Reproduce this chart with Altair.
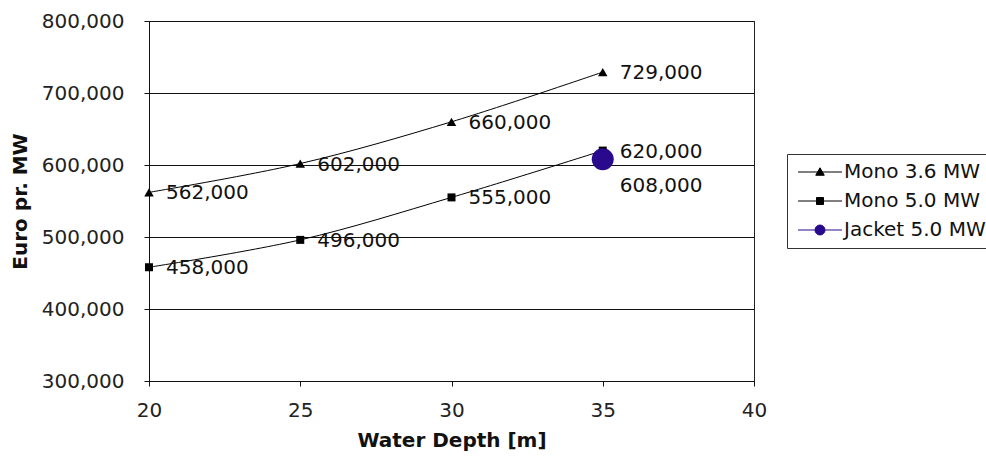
import altair as alt
import pandas as pd

depth = [20, 25, 30, 35]
mono36 = [562000, 602000, 660000, 729000]
mono50 = [458000, 496000, 555000, 620000]
jacket_depth = [35]
jacket50 = [608000]

series_names = ["Mono 3.6 MW", "Mono 5.0 MW", "Jacket 5.0 MW"]
series_colors = ["#000000", "#000000", "#2a0a8c"]
x_ticks = [20, 25, 30, 35, 40]
y_ticks = [300000, 400000, 500000, 600000, 700000, 800000]

rows = []
for d, v in zip(depth, mono36):
    rows.append({"depth": d, "value": v, "series": series_names[0]})
for d, v in zip(depth, mono50):
    rows.append({"depth": d, "value": v, "series": series_names[1]})
for d, v in zip(jacket_depth, jacket50):
    rows.append({"depth": d, "value": v, "series": series_names[2]})
df = pd.DataFrame(rows)

FONT = "DejaVu Sans"
FS = 20

x_enc = alt.X("depth:Q", scale=alt.Scale(domain=[20, 40], nice=False),
              axis=alt.Axis(values=x_ticks, title="Water Depth [m]", grid=False,
                            tickSize=5, labelPadding=14, titlePadding=10, labelFlush=False))
y_enc = alt.Y("value:Q", scale=alt.Scale(domain=[300000, 800000], nice=False),
              axis=alt.Axis(values=y_ticks, format=",.0f", title="Euro pr. MW", grid=True,
                            tickSize=5, labelPadding=20, titleX=-129, titleY=180,
                            titleAlign="center", titleBaseline="middle", titleAngle=-90))

base = alt.Chart(df)

lines = base.mark_line(color="black", strokeWidth=1, interpolate="catmull-rom").encode(
    x=x_enc, y=y_enc, detail="series:N"
).transform_filter(alt.FieldOneOfPredicate(field="series", oneOf=series_names[:2]))

tri = base.mark_point(shape="triangle-up", filled=True, color="black", size=90, opacity=1).encode(
    x=x_enc, y=y_enc
).transform_filter(alt.FieldEqualPredicate(field="series", equal=series_names[0]))

sq = base.mark_square(color="black", size=64, opacity=1).encode(
    x=x_enc, y=y_enc
).transform_filter(alt.FieldEqualPredicate(field="series", equal=series_names[1]))

circ = base.mark_circle(color=series_colors[2], size=484, opacity=1).encode(
    x=x_enc, y=y_enc
).transform_filter(alt.FieldEqualPredicate(field="series", equal=series_names[2]))

labels = base.mark_text(align="left", baseline="middle", dx=17, dy=1, font=FONT,
                        fontSize=FS, color="#111").encode(
    x=x_enc, y=y_enc, text=alt.Text("value:Q", format=",.0f")
).transform_filter(alt.FieldOneOfPredicate(field="series", oneOf=series_names[:2]))

jlabel = base.mark_text(align="left", baseline="middle", dx=17, dy=27, font=FONT,
                        fontSize=FS, color="#111").encode(
    x=x_enc, y=y_enc, text=alt.Text("value:Q", format=",.0f")
).transform_filter(alt.FieldEqualPredicate(field="series", equal=series_names[2]))

legend_paths = [
    "M-1.4,0H7.4M3,-0.85L3.85,0.65L2.15,0.65Z",
    "M-1.4,0H7.4M2.3,-0.7H3.7V0.7H2.3Z",
    "M-1.4,0H7.4M2.0,0A1,1 0 1,0 4.0,0A1,1 0 1,0 2.0,0Z",
]

leg = alt.Legend(title=None, orient="none", legendX=638, legendY=133)
legend_layer = base.mark_point(opacity=0, strokeWidth=1).encode(
    x=x_enc, y=y_enc,
    shape=alt.Shape("series:N", scale=alt.Scale(domain=series_names, range=legend_paths), legend=leg),
    fill=alt.Fill("series:N", scale=alt.Scale(domain=series_names, range=series_colors), legend=leg),
    stroke=alt.Stroke("series:N", scale=alt.Scale(domain=series_names, range=series_colors), legend=leg),
)

chart = alt.layer(lines, tri, sq, circ, labels, jlabel, legend_layer).properties(
    width=605, height=360,
    autosize=alt.AutoSizeParams(type="none"),
    padding={"left": 149, "top": 21, "right": 232, "bottom": 77},
    background="white",
).configure_view(stroke="#222", strokeWidth=1).configure_axis(
    labelFont=FONT, labelFontSize=FS, labelColor="#222",
    titleFont=FONT, titleFontSize=FS, titleFontWeight="bold", titleColor="#111",
    domainColor="#111", tickColor="#111", gridColor="#111", gridOpacity=1,
    domainWidth=1, gridWidth=1,
).configure_legend(
    labelFont=FONT, labelFontSize=FS, labelColor="#111",
    symbolSize=100, symbolOpacity=1, symbolStrokeWidth=1,
    strokeColor="#333", fillColor="white", padding=8, rowPadding=9, labelOffset=29,
)

chart.save("out.html", embed_options={"renderer": "svg", "actions": False})
